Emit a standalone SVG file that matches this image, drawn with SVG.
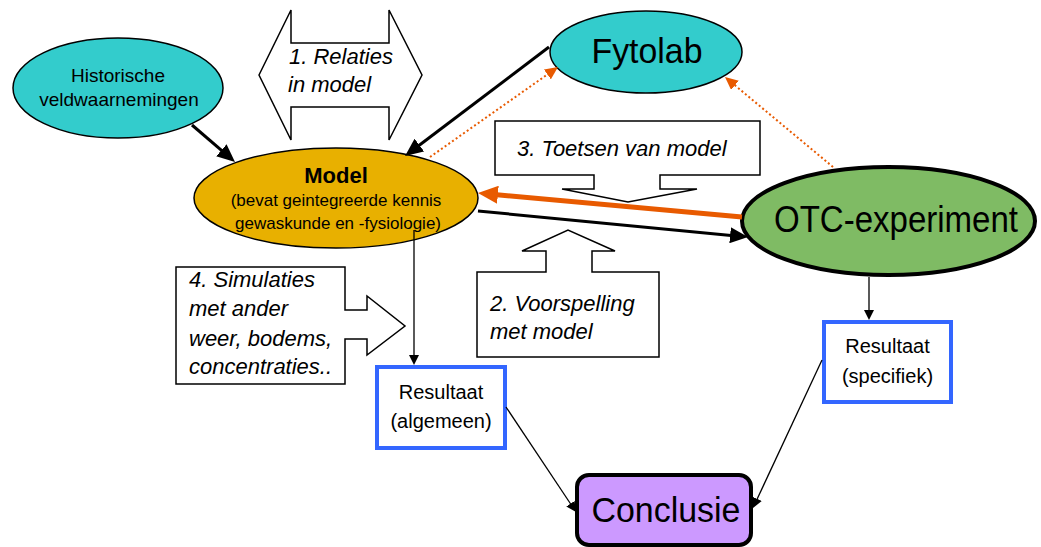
<svg xmlns="http://www.w3.org/2000/svg" width="1041" height="547" viewBox="0 0 1041 547">
<style>
text{font-family:"Liberation Sans",Arial,sans-serif;fill:#000}
.it{font-style:italic;font-size:22px}
.call{fill:#fff;stroke:#000;stroke-width:1.5}
.ell{stroke:#000;stroke-width:1.5}
.res{fill:#fff;stroke:#3366FF;stroke-width:4}
.thick{stroke:#000;stroke-width:3;fill:none}
.thin{stroke:#000;stroke-width:1.3;fill:none}
.dot{stroke:#E85A00;stroke-width:2;stroke-dasharray:2 2.5;fill:none}
.org{stroke:#E85A00;stroke-width:5;fill:none}
</style>
<defs>
<marker id="mk-black" markerUnits="userSpaceOnUse" markerWidth="18" markerHeight="16" refX="1" refY="8" orient="auto"><path d="M0,0 L18,8 L0,16 Z" fill="#000"/></marker>
<marker id="mk-orange" markerUnits="userSpaceOnUse" markerWidth="20" markerHeight="18" refX="1" refY="9" orient="auto"><path d="M0,0 L20,9 L0,18 Z" fill="#E85A00"/></marker>
<marker id="mk-dot" markerUnits="userSpaceOnUse" markerWidth="13" markerHeight="12" refX="1" refY="6" orient="auto"><path d="M0,0 L13,6 L0,12 Z" fill="#E85A00"/></marker>
<marker id="mk-thin" markerUnits="userSpaceOnUse" markerWidth="10" markerHeight="10" refX="1" refY="5" orient="auto"><path d="M0,0 L10,5 L0,10 Z" fill="#000"/></marker>
</defs>

<g id="callout-relaties">
<path class="call" d="M259,75 L291,10 V43 H389 V10 L422,75 L389,140 V107 H291 V140 Z"/>
<text class="it" x="289" y="64">1. Relaties</text>
<text class="it" x="288" y="92">in model</text>
</g>
<g id="callout-toetsen">
<path class="call" d="M495,121 H760 V175 H660 V189 H697 L628,202 L562,189 H594 V175 H495 Z"/>
<text class="it" x="517" y="156">3. Toetsen van model</text>
</g>
<g id="callout-voorspelling">
<path class="call" d="M477,272 H546 V251 H522 L568,230 L615,251 H592 V272 H659 V357 H477 Z"/>
<text class="it" x="490" y="311">2. Voorspelling</text>
<text class="it" x="490" y="339">met model</text>
</g>
<g id="callout-simulaties">
<path class="call" d="M176,267 H345 V310 H367 V296 L405,326 L367,355 V339 H345 V384 H176 Z"/>
<text class="it" x="189" y="287">4. Simulaties</text>
<text class="it" x="189" y="316">met ander</text>
<text class="it" x="189" y="346">weer, bodems,</text>
<text class="it" x="189" y="374">concentraties..</text>
</g>

<g id="node-historische">
<ellipse class="ell" cx="118" cy="88" rx="105" ry="50" fill="#33CCCC"/>
<text x="118" y="82" font-size="19" text-anchor="middle">Historische</text>
<text x="119" y="106" font-size="19" text-anchor="middle">veldwaarnemingen</text>
</g>
<g id="node-fytolab">
<ellipse class="ell" cx="646" cy="52" rx="96" ry="41" fill="#33CCCC"/>
<text x="647" y="63" font-size="35" text-anchor="middle" textLength="111" lengthAdjust="spacingAndGlyphs">Fytolab</text>
</g>
<g id="node-model">
<ellipse class="ell" cx="336" cy="198" rx="142" ry="50" fill="#E8B000"/>
<text x="336" y="183" font-size="22" font-weight="bold" text-anchor="middle">Model</text>
<text x="336" y="206" font-size="17" text-anchor="middle">(bevat geintegreerde kennis</text>
<text x="338" y="229" font-size="17" text-anchor="middle">gewaskunde en -fysiologie)</text>
</g>
<g id="node-otc">
<ellipse cx="888.5" cy="221" rx="146.5" ry="54" fill="#7FBB64" stroke="#000" stroke-width="4"/>
<text x="896" y="232" font-size="36" text-anchor="middle" textLength="244" lengthAdjust="spacingAndGlyphs">OTC-experiment</text>
</g>
<g id="node-res-algemeen">
<rect class="res" x="377" y="367" width="128" height="81"/>
<text x="441" y="399" font-size="20" text-anchor="middle">Resultaat</text>
<text x="441" y="428" font-size="20" text-anchor="middle">(algemeen)</text>
</g>
<g id="node-res-specifiek">
<rect class="res" x="824" y="322" width="127" height="80"/>
<text x="887.5" y="353" font-size="20" text-anchor="middle">Resultaat</text>
<text x="887.5" y="383" font-size="20" text-anchor="middle">(specifiek)</text>
</g>
<g id="node-conclusie">
<rect x="577" y="475" width="174" height="70" rx="12" fill="#CC99FF" stroke="#000" stroke-width="4"/>
<text x="666" y="522" font-size="35" text-anchor="middle" textLength="149" lengthAdjust="spacingAndGlyphs">Conclusie</text>
</g>

<g id="connectors">
<line class="thick" x1="192" y1="125" x2="222.1" y2="150.9" marker-end="url(#mk-black)"/>
<line class="thick" x1="549" y1="47" x2="418.6" y2="145.7" marker-end="url(#mk-black)"/>
<line class="dot" x1="430" y1="157" x2="548.2" y2="73.9" marker-end="url(#mk-dot)"/>
<line class="dot" x1="833" y1="167" x2="734.2" y2="84.7" marker-end="url(#mk-dot)"/>
<line class="org" x1="742" y1="217" x2="496.9" y2="194.7" marker-end="url(#mk-orange)"/>
<line class="thick" x1="478" y1="211" x2="731.1" y2="235.4" marker-end="url(#mk-black)"/>
<line class="thin" x1="414" y1="230" x2="414" y2="356" marker-end="url(#mk-thin)"/>
<line class="thin" x1="869" y1="277" x2="869" y2="311" marker-end="url(#mk-thin)"/>
<line class="thin" x1="506" y1="407" x2="571" y2="504.5" marker-end="url(#mk-thin)"/>
<line class="thin" x1="822" y1="360" x2="756.8" y2="499.8" marker-end="url(#mk-thin)"/>
</g>
</svg>
